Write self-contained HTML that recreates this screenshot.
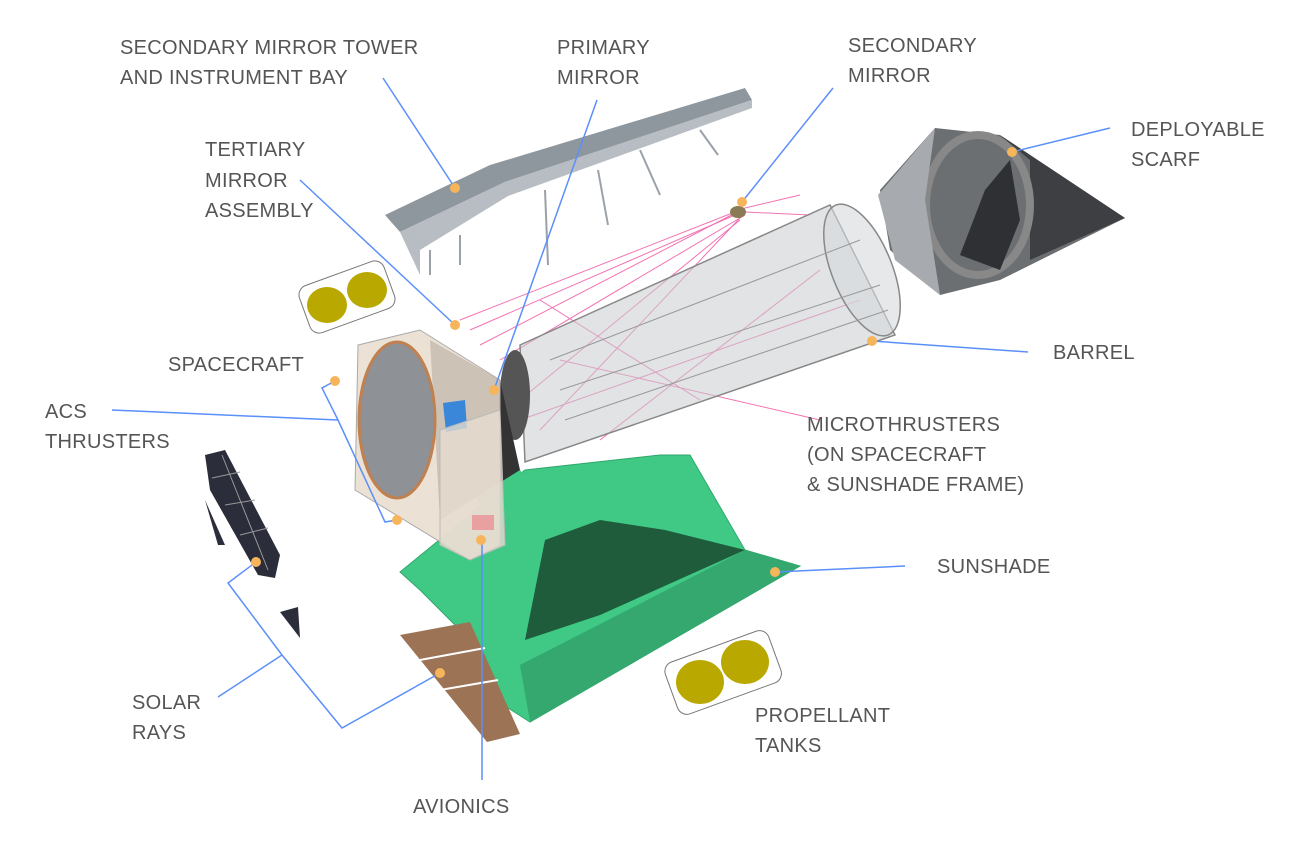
<!DOCTYPE html>
<html><head><meta charset="utf-8">
<style>
html,body{margin:0;padding:0;background:#fff;}
svg{display:block;}
text{font-family:"Liberation Sans",sans-serif;font-size:20px;fill:#555;letter-spacing:0.3px;}
</style></head><body>
<svg width="1312" height="848" viewBox="0 0 1312 848" xmlns="http://www.w3.org/2000/svg">
<!-- Sunshade -->
<polygon points="400,572 525,470 660,455 690,455 745,550 800,566 530,722 480,690 470,640 420,590" fill="#3fc985" stroke="#2fa86c" stroke-width="1"/>
<polygon points="525,640 545,540 600,520 665,530 745,550 600,615" fill="#1e5c3c"/>
<polygon points="520,665 745,550 800,566 530,722" fill="#34a86e"/>
<polygon points="460,480 520,470 560,520 530,560" fill="#3fc985"/>
<!-- brown panel -->
<polygon points="400,635 470,622 520,734 487,742" fill="#9c7355"/>
<line x1="420" y1="660" x2="485" y2="648" stroke="#fff" stroke-width="2"/>
<line x1="440" y1="690" x2="498" y2="680" stroke="#fff" stroke-width="2"/>
<!-- Tower -->
<polygon points="385,215 490,165 745,88 752,100 505,182 400,232" fill="#8f979e"/>
<polygon points="400,232 505,182 752,100 752,108 508,196 420,250 420,275" fill="#b7bdc3"/>
<g stroke="#9aa1a8" stroke-width="2">
<line x1="430" y1="250" x2="430" y2="275"/><line x1="460" y1="235" x2="460" y2="265"/>
<line x1="545" y1="190" x2="548" y2="265"/><line x1="598" y1="170" x2="608" y2="225"/>
<line x1="640" y1="150" x2="660" y2="195"/><line x1="700" y1="130" x2="718" y2="155"/>
</g>
<!-- Pink rays -->
<g stroke="#f050a0" stroke-width="1" opacity="0.8">
<line x1="460" y1="320" x2="740" y2="210"/><line x1="470" y1="330" x2="735" y2="215"/>
<line x1="480" y1="345" x2="745" y2="208"/><line x1="500" y1="360" x2="745" y2="215"/>
<line x1="745" y1="208" x2="800" y2="195"/><line x1="745" y1="212" x2="810" y2="215"/>
<line x1="520" y1="400" x2="740" y2="220"/><line x1="540" y1="430" x2="740" y2="218"/>
<line x1="560" y1="360" x2="820" y2="420"/><line x1="520" y1="420" x2="860" y2="300"/>
<line x1="600" y1="440" x2="820" y2="270"/><line x1="540" y1="300" x2="700" y2="400"/>
</g>
<!-- Barrel -->
<polygon points="520,345 830,205 895,335 525,462" fill="#c9ccd0" fill-opacity="0.55" stroke="#888" stroke-width="1.5"/>
<ellipse cx="862" cy="270" rx="30" ry="70" fill="#d6d8db" fill-opacity="0.6" stroke="#888" stroke-width="1.5" transform="rotate(-22 862 270)"/>
<g stroke="#999" stroke-width="1" fill="none">
<line x1="560" y1="390" x2="880" y2="285"/><line x1="565" y1="420" x2="888" y2="310"/>
<line x1="550" y1="360" x2="860" y2="240"/>
</g>
<ellipse cx="515" cy="395" rx="15" ry="45" fill="#555" />
<!-- Secondary mirror -->
<ellipse cx="738" cy="212" rx="8" ry="6" fill="#8a7a55"/>
<!-- Scarf -->
<polygon points="935,128 1000,135 1125,218 1000,280 940,295 890,250 880,190" fill="#6c6f72"/>
<polygon points="1000,135 1125,218 1030,260 1030,160" fill="#3d3f42"/>
<ellipse cx="978" cy="205" rx="52" ry="70" fill="none" stroke="#888" stroke-width="8"/>
<polygon points="960,255 985,190 1010,160 1020,220 1000,270" fill="#2e3033"/>
<polygon points="878,195 935,128 925,200 940,295 895,260" fill="#a7abaf"/>
<!-- Spacecraft -->
<polygon points="430,340 500,380 520,470 440,520" fill="#333"/>
<polygon points="358,345 420,330 500,380 500,545 470,560 355,490" fill="#e8dccd" fill-opacity="0.85" stroke="#aaa"/>
<ellipse cx="397" cy="420" rx="38" ry="78" fill="#8e9196" stroke="#c08050" stroke-width="3"/>
<polygon points="443,403 465,400 467,428 446,432" fill="#3a86d8"/>
<polygon points="440,430 500,410 505,545 470,560 440,545" fill="#e6dccf" fill-opacity="0.8" stroke="#bbb"/>
<rect x="472" y="515" width="22" height="15" fill="#e8a0a0"/>
<!-- Solar panel -->
<polygon points="205,455 225,450 280,555 275,578 258,575 210,490" fill="#2b2d3a"/>
<g stroke="#999" stroke-width="1"><line x1="212" y1="478" x2="240" y2="472"/><line x1="225" y1="505" x2="255" y2="500"/><line x1="240" y1="535" x2="268" y2="528"/><line x1="222" y1="455" x2="268" y2="570"/></g>
<polygon points="205,500 225,545 218,545" fill="#2b2d3a"/>
<polygon points="280,612 298,607 300,638" fill="#2b2d3a"/>
<!-- tanks -->
<g>
<rect x="302" y="272" width="90" height="50" rx="10" fill="none" stroke="#777" transform="rotate(-20 347 297)"/>
<ellipse cx="327" cy="305" rx="20" ry="18" fill="#b8a800"/>
<ellipse cx="367" cy="290" rx="20" ry="18" fill="#b8a800"/>
<rect x="668" y="645" width="110" height="55" rx="10" fill="none" stroke="#777" transform="rotate(-20 723 672)"/>
<ellipse cx="700" cy="682" rx="24" ry="22" fill="#b8a800"/>
<ellipse cx="745" cy="662" rx="24" ry="22" fill="#b8a800"/>
</g>
<!-- connectors -->
<g stroke="#5b8ff9" stroke-width="1.5" fill="none">
<line x1="383" y1="78" x2="455" y2="188"/>
<line x1="597" y1="100" x2="494" y2="390"/>
<line x1="833" y1="88" x2="742" y2="202"/>
<line x1="1110" y1="128" x2="1012" y2="152"/>
<line x1="300" y1="180" x2="455" y2="325"/>
<line x1="1028" y1="352" x2="872" y2="341"/>
<polyline points="112,410 338,420"/>
<polyline points="338,420 322,388 335,381"/>
<polyline points="338,420 385,522 397,520"/>
<line x1="905" y1="566" x2="775" y2="572"/>
<line x1="218" y1="697" x2="282" y2="655"/>
<polyline points="282,655 228,583 256,562"/>
<polyline points="282,655 342,728 440,673"/>
<line x1="482" y1="780" x2="482" y2="540"/>
</g>
<g fill="#f7b55b">
<circle cx="455" cy="188" r="5"/><circle cx="494" cy="390" r="5"/><circle cx="742" cy="202" r="5"/>
<circle cx="1012" cy="152" r="5"/><circle cx="455" cy="325" r="5"/><circle cx="872" cy="341" r="5"/>
<circle cx="335" cy="381" r="5"/><circle cx="397" cy="520" r="5"/><circle cx="775" cy="572" r="5"/>
<circle cx="256" cy="562" r="5"/><circle cx="440" cy="673" r="5"/><circle cx="481" cy="540" r="5"/>
</g>
<!-- labels -->
<text x="120" y="54">SECONDARY MIRROR TOWER</text>
<text x="120" y="84">AND INSTRUMENT BAY</text>
<text x="557" y="54">PRIMARY</text><text x="557" y="84">MIRROR</text>
<text x="848" y="52">SECONDARY</text><text x="848" y="82">MIRROR</text>
<text x="1131" y="136">DEPLOYABLE</text><text x="1131" y="166">SCARF</text>
<text x="205" y="156">TERTIARY</text><text x="205" y="187">MIRROR</text><text x="205" y="217">ASSEMBLY</text>
<text x="168" y="371">SPACECRAFT</text>
<text x="45" y="418">ACS</text><text x="45" y="448">THRUSTERS</text>
<text x="1053" y="359">BARREL</text>
<text x="807" y="431">MICROTHRUSTERS</text><text x="807" y="461">(ON SPACECRAFT</text><text x="807" y="491">&amp; SUNSHADE FRAME)</text>
<text x="937" y="573">SUNSHADE</text>
<text x="132" y="709">SOLAR</text><text x="132" y="739">RAYS</text>
<text x="755" y="722">PROPELLANT</text><text x="755" y="752">TANKS</text>
<text x="413" y="813">AVIONICS</text>
</svg>
</body></html>
